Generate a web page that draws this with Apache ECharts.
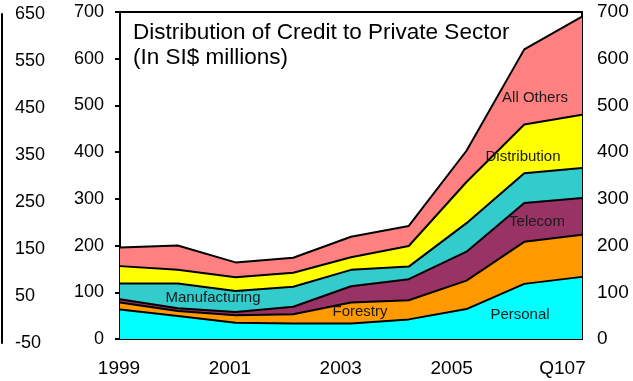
<!DOCTYPE html>
<html>
<head>
<meta charset="utf-8">
<script src="https://cdn.jsdelivr.net/npm/echarts@6/dist/echarts.min.js"></script>
<style>
  html, body { margin: 0; padding: 0; background: #fff; }
  #chart { width: 633px; height: 381px; }
</style>
</head>
<body>
<div id="chart"></div>
<script>
// Years along the bottom axis
const categories = ['1999', '2000', '2001', '2002', '2003', '2004', '2005', '2006', 'Q107'];

// Credit by sector, SI$ millions (stacked bottom to top)
const personal      = [63, 49, 35, 33, 33, 42, 64, 118, 133];
const forestry      = [15, 11, 16, 20, 45, 41, 61, 90, 90];
const telecom       = [7, 6, 7, 16, 35, 45, 62, 83, 79];
const manufacturing = [34, 53, 45, 43, 35, 27, 61, 64, 64];
const distribution  = [37, 29, 29, 30, 27, 44, 88, 104, 114];
const allOthers     = [40, 52, 32, 32, 44, 43, 67, 161, 210];

// Scale of the neighbouring panel at the far left
const sideAxisLabels = ['-50', '50', '150', '250', '350', '450', '550', '650'];

const FONT = 'Liberation Sans, Arial, sans-serif';

const chart = echarts.init(document.getElementById('chart'), null, { renderer: 'canvas' });

function layer(name, data, color) {
  return {
    name: name,
    type: 'line',
    stack: 'credit',
    data: data,
    xAxisIndex: 0,
    yAxisIndex: 0,
    symbol: 'none',
    smooth: false,
    lineStyle: { color: '#000', width: 2 },
    areaStyle: { color: color, opacity: 1 },
    itemStyle: { color: color },
    z: 2
  };
}

function tag(text, x, y) {
  return {
    type: 'text',
    x: x, y: y,
    z: 10,
    style: {
      text: text,
      fill: '#1a1a1a',
      font: '15px ' + FONT,
      textAlign: 'center',
      textVerticalAlign: 'middle'
    }
  };
}

const option = {
  animation: false,
  backgroundColor: '#fff',
  grid: [
    { left: 120, right: 51, top: 12, bottom: 42, show: true, borderColor: '#000', borderWidth: 2, backgroundColor: 'transparent' },
    { left: 2, width: 10, top: 14, bottom: 38 },
    // year captions sit on a slightly narrower band than the plot
    { left: 119, right: 70.5, top: 12, bottom: 42 }
  ],
  xAxis: [
    {
      type: 'category', gridIndex: 0, data: categories, boundaryGap: false,
      axisLine: { lineStyle: { color: '#000', width: 2 } },
      axisTick: { inside: true, length: 6, lineStyle: { color: '#000', width: 2 }, interval: 0 },
      axisLabel: { show: false },
      splitLine: { show: false }
    },
    {
      type: 'category', gridIndex: 1, data: ['a'], show: false
    },
    {
      type: 'category', gridIndex: 2, data: categories, boundaryGap: false,
      axisLine: { show: false },
      axisTick: { show: false },
      axisLabel: { color: '#000', fontSize: 19, fontFamily: FONT, margin: 20, interval: 1 },
      splitLine: { show: false }
    }
  ],
  yAxis: [
    {
      type: 'value', gridIndex: 0, min: 0, max: 700, interval: 100, position: 'left',
      axisLine: { show: true, lineStyle: { color: '#000', width: 2 } },
      axisTick: { show: true, inside: false, length: 5, lineStyle: { color: '#000', width: 2 } },
      axisLabel: { color: '#000', fontSize: 18, fontFamily: FONT, margin: 16 },
      splitLine: { show: false }
    },
    {
      type: 'value', gridIndex: 0, min: 0, max: 700, interval: 100, position: 'right',
      axisLine: { show: true, lineStyle: { color: '#000', width: 2 } },
      axisTick: { show: true, inside: true, length: 6, lineStyle: { color: '#000', width: 2 } },
      axisLabel: { color: '#000', fontSize: 19, fontFamily: FONT, margin: 15 },
      splitLine: { show: false }
    },
    {
      type: 'category', gridIndex: 1, data: sideAxisLabels, boundaryGap: false, position: 'left',
      axisLine: { show: true, lineStyle: { color: '#000', width: 2 } },
      axisTick: { show: false },
      axisLabel: { inside: true, color: '#000', fontSize: 18, fontFamily: FONT, margin: 13, interval: 0 },
      splitLine: { show: false }
    },
    {
      type: 'value', gridIndex: 2, show: false
    }
  ],
  series: [
    layer('Personal', personal, '#00FFFF'),
    layer('Forestry', forestry, '#FF9900'),
    layer('Telecom', telecom, '#993366'),
    layer('Manufacturing', manufacturing, '#33CCCC'),
    layer('Distribution', distribution, '#FFFF00'),
    layer('All Others', allOthers, '#FF8080')
  ],
  graphic: [
    {
      type: 'text', left: 133, top: 20, z: 10,
      style: {
        text: 'Distribution of Credit to Private Sector\n(In SI$ millions)',
        fill: '#000',
        font: '22.5px ' + FONT,
        lineHeight: 25
      }
    },
    tag('Manufacturing', 213, 298),
    tag('Forestry', 360, 312),
    tag('Personal', 520, 315),
    tag('Telecom', 537, 222),
    tag('Distribution', 523, 157),
    tag('All Others', 535, 98)
  ]
};

chart.setOption(option);
</script>
</body>
</html>
